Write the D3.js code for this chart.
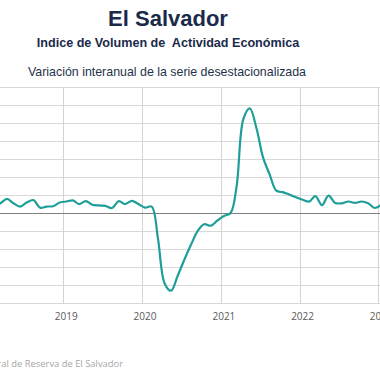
<!DOCTYPE html>
<html>
<head>
<meta charset="utf-8">
<script src="https://cdn.jsdelivr.net/npm/d3@7"></script>
<style>
  html, body { margin: 0; padding: 0; background: #ffffff; overflow: hidden; }
  svg { display: block; }
</style>
</head>
<body>
<svg id="chart" width="380" height="380"></svg>
<script>
// ---- Data (monthly, year-on-year % change of seasonally adjusted IVAE) ----
const months = [
  "2018-01","2018-02","2018-03","2018-04","2018-05","2018-06","2018-07","2018-08","2018-09","2018-10","2018-11","2018-12",
  "2019-01","2019-02","2019-03","2019-04","2019-05","2019-06","2019-07","2019-08","2019-09","2019-10","2019-11","2019-12",
  "2020-01","2020-02","2020-03","2020-04","2020-05","2020-06","2020-07","2020-08","2020-09","2020-10","2020-11","2020-12",
  "2021-01","2021-02","2021-03","2021-04","2021-05","2021-06","2021-07","2021-08","2021-09","2021-10","2021-11","2021-12",
  "2022-01","2022-02","2022-03","2022-04","2022-05","2022-06","2022-07","2022-08","2022-09","2022-10","2022-11","2022-12",
  "2023-01"
];
const values = [
  2.0, 2.0, 2.7, 3.9, 2.7, 1.8, 2.9, 3.6, 1.5, 1.8, 1.9, 2.9,
  3.2, 3.5, 2.5, 3.3, 2.3, 2.1, 2.0, 1.4, 3.3, 2.5, 3.4, 2.5,
  1.5, 1.8, -7.0, -19.5, -21.5, -17.3, -13.0, -8.8, -5.0, -3.1, -3.5, -2.1,
  -0.8, 0.0, 7.5, 26.0, 29.0, 23.5, 15.5, 10.7, 6.2, 5.8, 5.1, 4.4,
  3.7, 3.2, 4.7, 2.2, 4.8, 2.8, 2.7, 3.2, 2.8, 3.2, 2.7, 1.4,
  2.3
];
const yTicks = [-25, -20, -15, -10, -5, 0, 5, 10, 15, 20, 25, 30, 35];
const gridYears = ["2018", "2019", "2020", "2021", "2022", "2023"];
const labelYears = ["2019", "2020", "2021", "2022", "2023"];
const titleText = "El Salvador";
const subtitleText = "Indice de Volumen de  Actividad Económica";
const subtitle2Text = "Variación interanual de la serie desestacionalizada";
const sourceText = "Fuente: Banco Central de Reserva de El Salvador";

// ---- Layout ----
const svg = d3.select("#chart");
const parse = d3.timeParse("%Y-%m");
const data = months.map((m, i) => {
  const d = parse(m);
  return { date: new Date(d.getFullYear(), d.getMonth(), 15), value: values[i] };
});

const x = d3.scaleTime()
  .domain([new Date(2018, 0, 1), new Date(2023, 0, 1)])
  .range([-15.4, 378.3]);
const y = d3.scaleLinear().domain([-25, 35]).range([303.3, 86.7]);

const W = 380;

// horizontal gridlines
svg.append("g").selectAll("line").data(yTicks.filter(t => t !== 0)).join("line")
  .attr("x1", 0).attr("x2", W)
  .attr("y1", d => Math.round(y(d)) + 0.5).attr("y2", d => Math.round(y(d)) + 0.5)
  .attr("stroke", "#d9d9d9").attr("stroke-width", 1);

// vertical gridlines at year starts
const yearDates = gridYears.map(s => new Date(+s, 0, 1));
svg.append("g").selectAll("line").data(yearDates).join("line")
  .attr("x1", d => Math.round(x(d)) + 0.5).attr("x2", d => Math.round(x(d)) + 0.5)
  .attr("y1", y(35)).attr("y2", y(-25))
  .attr("stroke", "#d4d4d4").attr("stroke-width", 1);

// zero line
svg.append("line")
  .attr("x1", 0).attr("x2", W)
  .attr("y1", Math.round(y(0)) + 0.5).attr("y2", Math.round(y(0)) + 0.5)
  .attr("stroke", "#7f7f7f").attr("stroke-width", 1.2);

// year labels
svg.append("g").selectAll("text").data(labelYears.map(s => new Date(+s, 0, 1))).join("text")
  .attr("x", d => x(d) + 3)
  .attr("y", 320)
  .attr("text-anchor", "middle")
  .attr("font-family", "'Open Sans', sans-serif")
  .attr("font-size", 10)
  .attr("fill", "#595959")
  .text(d => d.getFullYear());

// series line
const line = d3.line()
  .x(d => x(d.date))
  .y(d => y(d.value))
  .curve(d3.curveCatmullRom.alpha(0.5));

svg.append("path")
  .datum(data)
  .attr("fill", "none")
  .attr("stroke", "#1e9e99")
  .attr("stroke-width", 2.2)
  .attr("stroke-linejoin", "round")
  .attr("d", line);

// titles
svg.append("text")
  .attr("x", 168).attr("y", 26)
  .attr("text-anchor", "middle")
  .attr("font-family", "'Liberation Sans', Arial, sans-serif")
  .attr("font-weight", "bold")
  .attr("font-size", 22)
  .attr("fill", "#1b2a4a")
  .text(titleText);

svg.append("text")
  .attr("x", 168).attr("y", 46.5)
  .attr("text-anchor", "middle")
  .attr("font-family", "'Liberation Sans', Arial, sans-serif")
  .attr("font-weight", "bold")
  .attr("font-size", 12.6)
  .attr("fill", "#1b2a4a")
  .style("white-space", "pre")
  .text(subtitleText);

svg.append("text")
  .attr("x", 167).attr("y", 75.5)
  .attr("text-anchor", "middle")
  .attr("font-family", "'Liberation Sans', Arial, sans-serif")
  .attr("font-size", 12.4)
  .attr("fill", "#26324a")
  .text(subtitle2Text);

// source
svg.append("text")
  .attr("x", 123).attr("y", 367)
  .attr("text-anchor", "end")
  .attr("font-family", "'Open Sans', sans-serif")
  .attr("font-size", 9.4)
  .attr("fill", "#a6a6a6")
  .text(sourceText);
</script>
</body>
</html>
